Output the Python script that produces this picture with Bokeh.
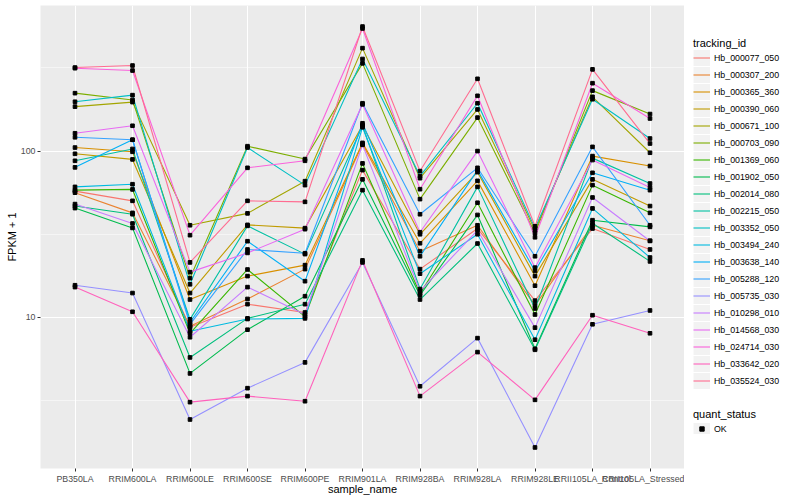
from bokeh.plotting import figure
from bokeh.layouts import row
from bokeh.models import (FactorRange, Range1d, FixedTicker, Legend, LegendItem,
                          ColumnDataSource, NumeralTickFormatter)
from bokeh.embed import file_html
from bokeh.resources import INLINE
import math

samples = ["PB350LA", "RRIM600LA", "RRIM600LE", "RRIM600SE", "RRIM600PE", "RRIM901LA",
           "RRIM928BA", "RRIM928LA", "RRIM928LE", "RRII105LA_Control", "RRII105LA_Stressed"]

tracking_ids = ["Hb_000077_050", "Hb_000307_200", "Hb_000365_360", "Hb_000390_060",
                "Hb_000671_100", "Hb_000703_090", "Hb_001369_060", "Hb_001902_050",
                "Hb_002014_080", "Hb_002215_050", "Hb_003352_050", "Hb_003494_240",
                "Hb_003638_140", "Hb_005288_120", "Hb_005735_030", "Hb_010298_010",
                "Hb_014568_030", "Hb_024714_030", "Hb_033642_020", "Hb_035524_030"]

colors = ["#F8766D", "#EA8331", "#D89000", "#C09B00", "#A3A500", "#7CAE00", "#39B600",
          "#00BB4E", "#00BF7D", "#00C1A3", "#00BFC4", "#00BAE0", "#00B0F6", "#35A2FF",
          "#9590FF", "#C77CFF", "#E76BF3", "#FA62DB", "#FF62BC", "#FF6C91"]

# FPKM + 1 per sample (same order as samples)
Hb_000077_050 = [57.4, 50.2, 8.71, 12.0, 10.7, 76.8, 19.5, 34.2, 12.6, 34.2, 25.6]
Hb_000307_200 = [56.2, 42.5, 8.83, 12.9, 19.5, 110, 25.0, 35.8, 11.8, 35.8, 28.9]
Hb_000365_360 = [105, 99.0, 12.8, 17.7, 20.6, 112, 27.9, 66.2, 15.5, 93.3, 81.3]
Hb_000390_060 = [96.3, 89.1, 14.0, 36.0, 34.4, 143, 31.6, 74.7, 17.7, 67.6, 46.7]
Hb_000671_100 = [185, 197, 35.8, 42.2, 65.9, 416, 68.7, 178, 33.4, 212, 97.7]
Hb_000703_090 = [223, 203, 17.2, 107, 89.5, 337, 51.4, 159, 32.1, 231, 167]
Hb_001369_060 = [58.2, 58.8, 8.02, 19.4, 10.1, 84.3, 13.9, 48.9, 10.4, 62.4, 42.5]
Hb_001902_050 = [45.4, 34.5, 4.60, 8.43, 13.4, 67.6, 13.6, 41.3, 6.47, 38.4, 35.0]
Hb_002014_080 = [46.7, 41.7, 5.74, 9.86, 12.0, 58.2, 12.8, 27.8, 6.38, 36.8, 21.7]
Hb_002215_050 = [87.4, 103, 9.72, 35.5, 24.0, 142, 14.8, 60.9, 11.3, 90.7, 63.8]
Hb_003352_050 = [198, 217, 15.8, 105, 62.4, 358, 70.7, 194, 34.4, 205, 119]
Hb_003494_240 = [60.9, 63.2, 8.24, 9.77, 9.86, 139, 18.3, 31.6, 7.34, 45.2, 22.9]
Hb_003638_140 = [79.8, 117, 9.34, 28.7, 16.5, 147, 23.3, 76.8, 19.0, 74.0, 58.2]
Hb_005288_120 = [121, 117, 9.08, 25.6, 24.3, 194, 41.7, 79.3, 23.3, 106, 35.8]
Hb_005735_030 = [15.6, 14.0, 2.43, 3.75, 5.36, 21.4, 3.85, 7.50, 1.65, 9.08, 11.0]
Hb_010298_010 = [48.0, 36.7, 7.59, 15.2, 10.4, 109, 14.4, 33.4, 8.67, 52.6, 28.8]
Hb_014568_030 = [128, 142, 18.7, 24.4, 33.9, 191, 32.5, 100, 19.9, 88.3, 60.4]
Hb_024714_030 = [315, 305, 31.2, 79.3, 87.4, 546, 59.0, 215, 30.3, 256, 157]
Hb_033642_020 = [15.2, 10.8, 3.09, 3.36, 3.13, 22.0, 3.36, 6.18, 3.19, 10.3, 8.02]
Hb_035524_030 = [318, 327, 21.4, 50.2, 49.5, 561, 75.8, 272, 35.3, 310, 111]

series = [Hb_000077_050, Hb_000307_200, Hb_000365_360, Hb_000390_060, Hb_000671_100,
          Hb_000703_090, Hb_001369_060, Hb_001902_050, Hb_002014_080, Hb_002215_050,
          Hb_003352_050, Hb_003494_240, Hb_003638_140, Hb_005288_120, Hb_005735_030,
          Hb_010298_010, Hb_014568_030, Hb_024714_030, Hb_033642_020, Hb_035524_030]

quant_status = ["OK"]

FONT = "Liberation Sans"

all_vals = [v for s in series for v in s]
lo, hi = math.log10(min(all_vals)), math.log10(max(all_vals))
pad = 0.05 * (hi - lo)
y_lo, y_hi = 10 ** (lo - pad), 10 ** (hi + pad)

p = figure(x_range=FactorRange(factors=samples, range_padding=0.1, range_padding_units="absolute"),
           y_range=Range1d(y_lo, y_hi),
           y_axis_type="log",
           frame_width=644, frame_height=463,
           min_border_left=40, min_border_right=0, min_border_top=5, min_border_bottom=26,
           output_backend="svg", toolbar_location=None)

p.background_fill_color = "#EBEBEB"
p.border_fill_color = "white"
p.outline_line_color = None

p.xgrid.grid_line_color = "white"
p.xgrid.grid_line_width = 1.07
p.ygrid.ticker = FixedTicker(ticks=[1, 10, 100, 1000],
                             minor_ticks=[10 ** -0.5, 10 ** 0.5, 10 ** 1.5, 10 ** 2.5])
p.ygrid.grid_line_color = "white"
p.ygrid.grid_line_width = 1.07
p.ygrid.minor_grid_line_color = "white"
p.ygrid.minor_grid_line_width = 0.53

p.yaxis.ticker = FixedTicker(ticks=[1, 10, 100, 1000])
p.yaxis.formatter = NumeralTickFormatter(format="0")

for ax in (p.xaxis, p.yaxis):
    ax.axis_line_color = None
    ax.major_tick_line_color = "#333333"
    ax.major_tick_out = 3
    ax.major_tick_in = 0
    ax.minor_tick_line_color = None
    ax.major_label_text_font = FONT
    ax.major_label_text_font_size = "8.8px"
    ax.major_label_text_color = "#4D4D4D"
    ax.major_label_standoff = 2
    ax.axis_label_text_font = FONT
    ax.axis_label_text_font_size = "11px"
    ax.axis_label_text_font_style = "normal"
    ax.axis_label_text_color = "black"
p.yaxis.axis_label_standoff = 0
p.xaxis.axis_label_standoff = -4

p.xaxis.axis_label = "sample_name"
p.yaxis.axis_label = "FPKM + 1"

for col, vals in zip(colors, series):
    p.line(x=samples, y=vals, line_color=col, line_width=1.1)

px, py = [], []
for vals in series:
    px.extend(samples)
    py.extend(vals)
src = ColumnDataSource(dict(x=px, y=py, status=[quant_status[0]] * len(px)))
p.scatter(x="x", y="y", source=src, marker="square", size=3.6, color="black")

# ---- legend panel (separate figure to the right; keys are hidden copies of the renderers)
lf = figure(x_range=FactorRange(factors=samples), y_range=Range1d(y_lo, y_hi),
            y_axis_type="log", width=108, height=496,
            min_border_left=0, min_border_right=0, min_border_top=0, min_border_bottom=0,
            x_axis_location=None, y_axis_location=None,
            output_backend="svg", toolbar_location=None)
lf.outline_line_color = None
lf.background_fill_color = "white"
lf.border_fill_color = "white"
lf.xgrid.visible = False
lf.ygrid.visible = False

key_bg = lf.line(x=samples, y=series[0], line_color="#F2F2F2", line_width=16, visible=False)
items = []
for tid, col, vals in zip(tracking_ids, colors, series):
    r = lf.line(x=samples, y=vals, line_color=col, line_width=1.1, visible=False)
    items.append(LegendItem(label=tid, renderers=[key_bg, r]))
pts_key = lf.scatter(x="x", y="y", source=src, marker="square", size=4, color="black", visible=False)


def style_legend(lg):
    lg.title_text_font = FONT
    lg.title_text_font_size = "11px"
    lg.title_text_font_style = "normal"
    lg.title_text_color = "black"
    lg.title_standoff = 0
    lg.label_text_font = FONT
    lg.label_text_font_size = "8.8px"
    lg.label_text_color = "black"
    lg.glyph_width = 17
    lg.glyph_height = 17
    lg.label_height = 17
    lg.spacing = 0
    lg.padding = 4
    lg.margin = 0
    lg.label_standoff = 4
    lg.background_fill_alpha = 0
    lg.border_line_color = None
    lg.click_policy = "none"


leg1 = Legend(items=items, title="tracking_id", location=(9, 78))
style_legend(leg1)
lf.add_layout(leg1)

leg2 = Legend(items=[LegendItem(label=quant_status[0], renderers=[key_bg, pts_key])],
              title="quant_status", location=(9, 30))
style_legend(leg2)
leg2.glyph_height = 11
lf.add_layout(leg2)

layout = row(p, lf, spacing=0)
open("out.html", "w").write(file_html(layout, INLINE))
